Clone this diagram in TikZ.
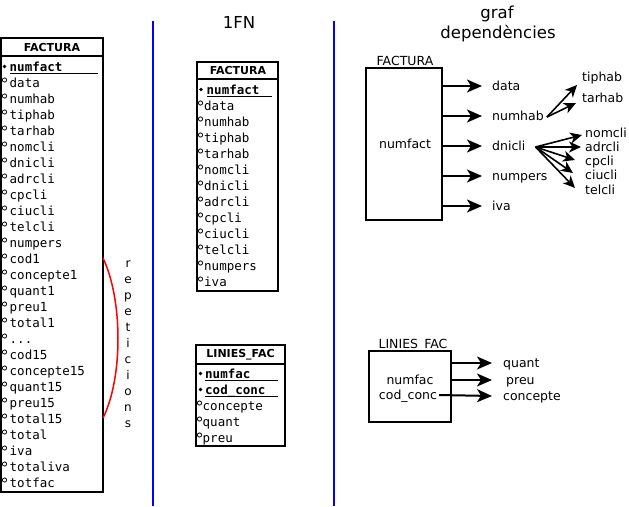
\documentclass[tikz,border=0pt]{standalone}
\usepackage{fontspec}
\setmainfont{DejaVu Sans}
\newfontfamily\monof{DejaVu Sans Mono}
\usetikzlibrary{arrows.meta}
\newcommand\tdots{...}
\begin{document}
\begin{tikzpicture}[x=1pt,y=-1pt]
\tikzset{
 tbl/.style={draw, line width=2pt, inner sep=0pt},
 hdr/.style={font=\fontsize{11}{12}\selectfont\bfseries, inner sep=0pt},
 row/.style={font=\monof\fontsize{12.5}{15}\selectfont, anchor=base west, inner sep=0pt},
 lab/.style={font=\fontsize{12.5}{15}\selectfont, anchor=west, inner sep=0pt, text height=9pt, text depth=0pt},
 ttl/.style={font=\fontsize{16.5}{19}\selectfont, inner sep=0pt, text height=12pt, text depth=0pt},
 arr/.style={line width=2pt, -{Stealth[length=15pt,width=13pt,inset=4pt]}},
 sarr/.style={line width=1.6pt, -{Stealth[length=12pt,width=11pt,inset=3.5pt]}},
 opt/.style={draw, line width=0.8pt, circle, inner sep=0pt, minimum size=4.2pt},
 keym/.style={fill, circle, inner sep=0pt, minimum size=3.6pt},
 sepl/.style={blue, line width=1.8pt},
 uline/.style={line width=1pt},
}
\useasboundingbox (0,0) rectangle (629,506);

% separators
\draw[sepl] (153,21) -- (153,506);
\draw[sepl] (334,21) -- (334,506);

% titles
\node[ttl] (t1) at (239,22) {1FN};
\node[ttl] (t2) at (497,12) {graf};
\node[ttl] (t3) at (498,32) {dependències};

% ---------- left table ----------
\node[tbl, minimum width=102pt, minimum height=454pt] (T1) at (52,265) {};
\draw[line width=2pt] (1,56) -- (103,56);
\node[hdr] (T1h) at (52,47) {FACTURA};
\node[keym] (k10) at (4.5,66.5) {};
\node[row] (L0) at (9.5,71.5) {\textbf{numfact}};
\draw[uline] ([yshift=-1.5pt]L0.base west) -- ++(88,0);
\foreach \t [count=\i] in {data,numhab,tiphab,tarhab,nomcli,dnicli,adrcli,cpcli,ciucli,telcli,numpers,cod1,concepte1,quant1,preu1,total1,\tdots,cod15,concepte15,quant15,preu15,total15,total,iva,totaliva,totfac}{
  \node[opt] (Lo\i) at (4.5,64+16*\i) {};
  \node[row] (L\i) at (9.5,71.5+16*\i) {\t};
}
\draw[red, line width=1.5pt] (103,258) .. controls (123,300) and (123,378) .. (103,418);
\foreach \c [count=\k from 0] in {r,e,p,e,t,i,c,i,o,n,s}{
  \node[font=\fontsize{12}{14}\selectfont, anchor=base, inner sep=0pt] (rep\k) at (128,267.5+16*\k) {\c};
}

% ---------- middle FACTURA ----------
\node[tbl, minimum width=81pt, minimum height=229pt] (T2) at (237.5,176.5) {};
\draw[line width=2pt] (197,79) -- (278,79);
\node[hdr] (T2h) at (238,70.5) {FACTURA};
\node[keym] (k20) at (201,89.5) {};
\node[row] (M0) at (206.5,94.5) {\textbf{numfact}};
\draw[uline] ([yshift=-1.5pt]M0.base west) -- ++(65,0);
\foreach \t [count=\i] in {data,numhab,tiphab,tarhab,nomcli,dnicli,adrcli,cpcli,ciucli,telcli,numpers,iva}{
  \node[opt] (Mo\i) at (200.5,87+16*\i) {};
  \node[row] (M\i) at (204,94.5+16*\i) {\t};
}

% ---------- middle LINIES_FAC ----------
\node[tbl, minimum width=88.5pt, minimum height=101pt] (T3) at (240.25,395.5) {};
\draw[line width=2pt] (196,363.5) -- (284.5,363.5);
\node[hdr] (T3h) at (240.5,354.5) {LINIES\_FAC};
\node[keym] (k31) at (200.5,373.5) {};
\node[row] (N1) at (205,378.5) {\textbf{numfac}};
\draw[uline] ([yshift=-1.5pt]N1.base west) -- ++(73,0);
\node[keym] (k32) at (200.5,389.5) {};
\node[row] (N2) at (205,394.5) {\textbf{cod\_conc}};
\draw[uline] ([yshift=-1.5pt]N2.base west) -- ++(73,0);
\foreach \t [count=\i from 3] in {concepte,quant,preu}{
  \node[opt] (No\i) at (199.5,355+16*\i) {};
  \node[row] (N\i) at (202.5,362.5+16*\i) {\t};
}

% ---------- dependency graph FACTURA ----------
\node[lab, anchor=center] (FL) at (405,61) {FACTURA};
\node[tbl, minimum width=76pt, minimum height=152pt] (FB) at (404,144) {};
\node[lab, anchor=center] (FK) at (405,144) {numfact};
\node[lab] (Gdata) at (492,86) {data};
\node[lab] (Gnumhab) at (492,116) {numhab};
\node[lab] (Gdni) at (492,146) {dnicli};
\node[lab] (Gnumpers) at (492,176) {numpers};
\node[lab] (Giva) at (492,206) {iva};
\foreach \n in {Gdata,Gnumhab,Gdni,Gnumpers,Giva}{
  \draw[arr] (FB.east |- \n.west) -- ([xshift=-10pt]\n.west);
}
\node[lab] (Gtip) at (582,77) {tiphab};
\node[lab] (Gtar) at (582,98) {tarhab};
\coordinate (nho) at ([xshift=3pt,yshift=-1pt]Gnumhab.east);
\draw[sarr] (nho) -- ([xshift=-5pt,yshift=-8pt]Gtip.west);
\draw[sarr] (nho) -- ([xshift=-6pt,yshift=-5pt]Gtar.west);

\node[lab] (Gnom) at (585,133) {nomcli};
\node[lab] (Gadr) at (585,147) {adrcli};
\node[lab] (Gcp) at (585,161) {cpcli};
\node[lab] (Gciu) at (585,175) {ciucli};
\node[lab] (Gtel) at (585,190) {telcli};
\coordinate (dno) at ([xshift=10pt,yshift=-1pt]Gdni.east);
\draw[sarr] (dno) -- ([xshift=-3pt,yshift=-2pt]Gnom.west);
\draw[sarr] (dno) -- ([xshift=-4pt]Gadr.west);
\draw[sarr] (dno) -- ([xshift=-10pt,yshift=1pt]Gcp.west);
\draw[sarr] (dno) -- ([xshift=-12pt,yshift=2pt]Gciu.west);
\draw[sarr] (dno) -- ([xshift=-10pt,yshift=2pt]Gtel.west);

% ---------- dependency graph LINIES_FAC ----------
\node[lab, anchor=center] (RL) at (413,344) {LINIES\_FAC};
\node[tbl, fill=white, minimum width=82pt, minimum height=71pt] (RB) at (410,386.5) {};
\node[lab, anchor=center] (RK1) at (410,380) {numfac};
\node[lab, anchor=center] (RK2) at (408,395) {cod\_conc};
\node[lab] (Rq) at (503,363) {quant};
\node[lab] (Rp) at (506,380) {preu};
\node[lab] (Rc) at (503,396) {concepte};
\draw[arr] (RB.east |- Rq.west) -- ([xshift=-11pt]Rq.west);
\draw[arr] (RB.east |- Rp.west) -- ([xshift=-14pt]Rp.west);
\draw[arr] ([xshift=2pt]RK2.east) -- ([xshift=-11pt]Rc.west);
\end{tikzpicture}
\end{document}
